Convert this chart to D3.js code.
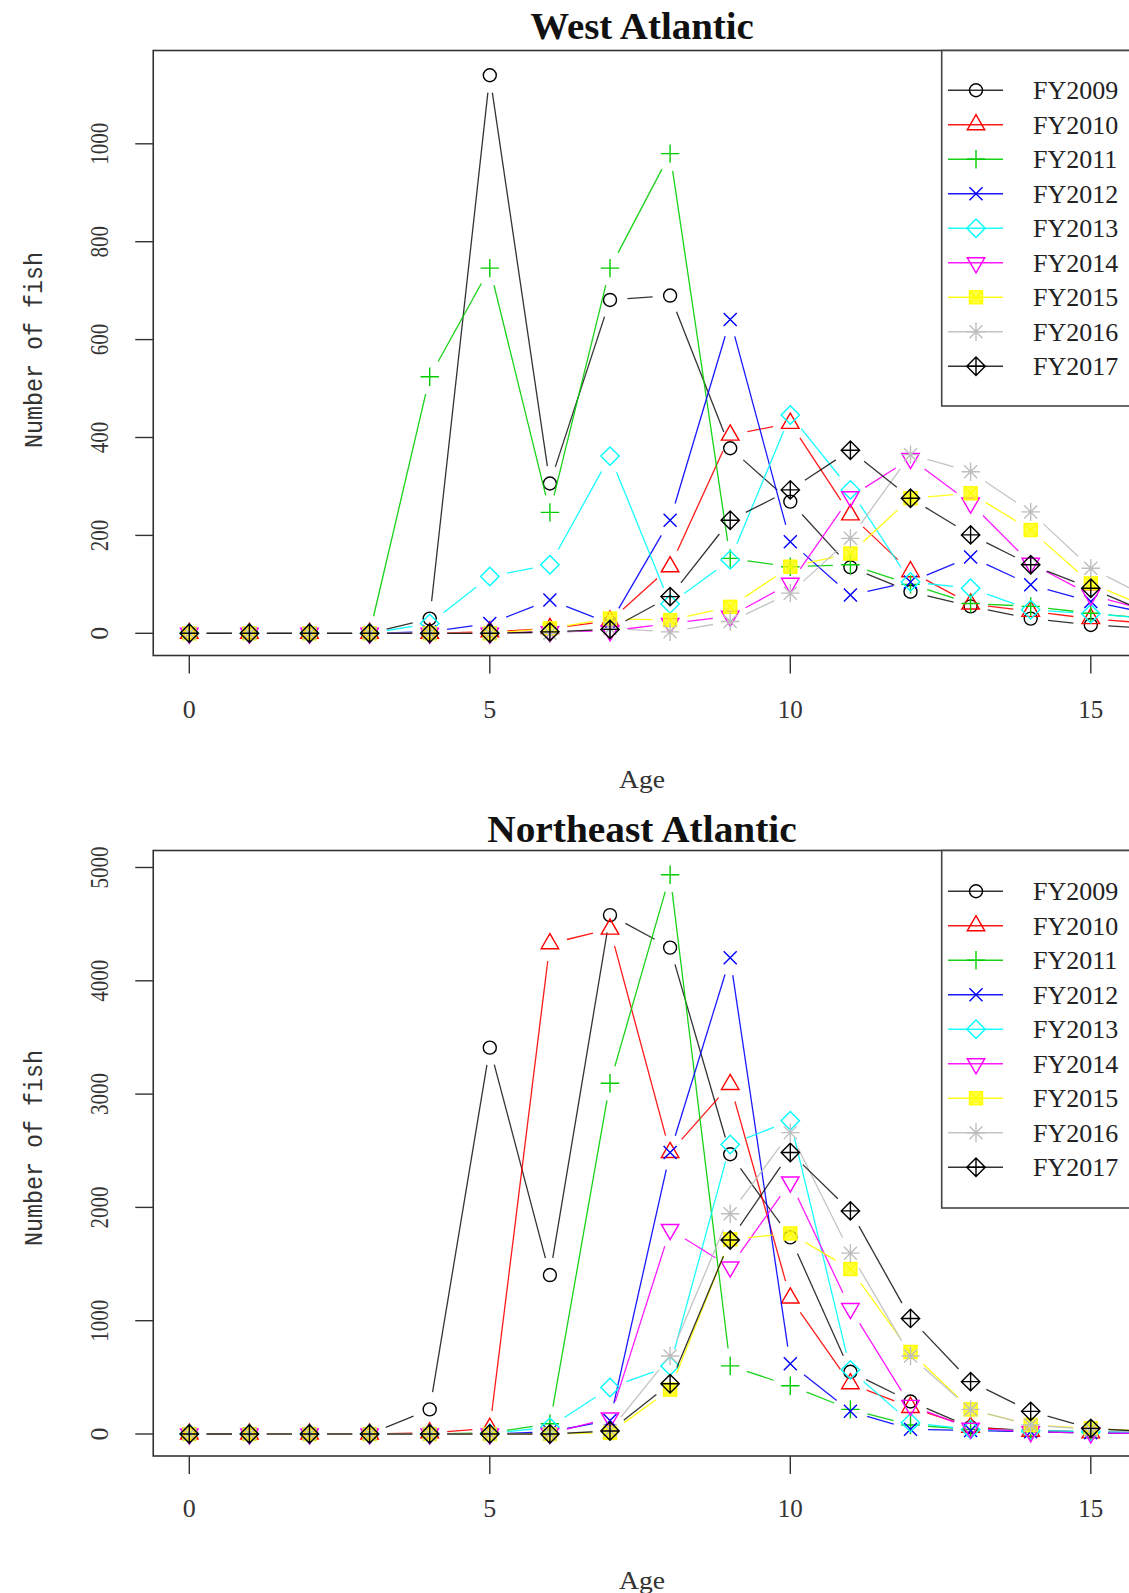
<!DOCTYPE html>
<html>
<head>
<meta charset="utf-8">
<script src="https://cdn.jsdelivr.net/npm/d3@7"></script>
<style>
  html, body { margin: 0; padding: 0; background: #ffffff; overflow: hidden; }
  svg { display: block; }
</style>
</head>
<body>
<svg id="chart" width="1129" height="1593"></svg>
<script>
// ---------------- data ----------------
const ages = [0,1,2,3,4,5,6,7,8,9,10,11,12,13,14,15,16];
const seriesNames = ["FY2009","FY2010","FY2011","FY2012","FY2013","FY2014","FY2015","FY2016","FY2017"];
const seriesColors = ["#000000","#FF0000","#00CD00","#0000FF","#00FFFF","#FF00FF","#FFFF00","#BEBEBE","#000000"];
const seriesPch = [1,2,3,4,5,6,7,8,9];
const xTicks = [0,5,10,15];
const westYTicks = [0,200,400,600,800,1000];
const neYTicks = [0,1000,2000,3000,4000,5000];

// West Atlantic (number of fish by age 0..16)
const westFY2009 = [0,0,0,0,30,1140,306,681,690,378,269,135,85,55,30,17,10];
const westFY2010 = [0,0,0,0,0,3,10,25,136,405,429,242,126,60,45,30,20];
const westFY2011 = [0,0,0,0,524,746,247,746,980,153,136,140,100,61,55,41,30];
const westFY2012 = [0,0,0,0,3,20,68,20,231,641,187,78,105,156,99,65,40];
const westFY2013 = [0,0,0,0,20,116,140,362,60,150,446,293,105,92,48,40,30];
const westFY2014 = [0,0,0,0,0,0,3,5,20,35,102,279,357,266,143,78,45];
const westFY2015 = [0,0,0,0,0,0,10,30,27,54,136,163,276,286,211,102,50];
const westFY2016 = [0,0,0,0,0,0,0,10,3,24,82,194,365,330,248,133,70];
const westFY2017 = [0,0,0,0,0,0,3,8,75,231,293,374,276,201,140,92,40];

// Northeast Atlantic
const neFY2009 = [0,0,0,0,217,3410,1403,4580,4293,2469,1735,549,287,60,30,20,10];
const neFY2010 = [0,0,0,0,10,50,4328,4457,2485,3085,1201,444,235,60,25,10,5];
const neFY2011 = [0,0,0,0,0,10,90,3096,4936,601,426,217,80,40,20,10,5];
const neFY2012 = [0,0,0,0,0,0,20,120,2485,4203,619,200,42,30,20,10,5];
const neFY2013 = [0,0,0,0,0,5,60,410,600,2555,2765,566,100,40,30,20,10];
const neFY2014 = [0,0,0,0,0,0,5,141,1805,1474,2224,1107,252,50,20,10,5];
const neFY2015 = [0,0,0,0,0,0,0,10,392,1718,1770,1456,724,217,80,50,20];
const neFY2016 = [0,0,0,0,0,0,0,30,688,1944,2660,1596,688,217,80,40,20];
const neFY2017 = [0,0,0,0,0,0,0,26,444,1712,2485,1969,1020,462,200,50,20];

const westValues = [westFY2009,westFY2010,westFY2011,westFY2012,westFY2013,westFY2014,westFY2015,westFY2016,westFY2017];
const neValues = [neFY2009,neFY2010,neFY2011,neFY2012,neFY2013,neFY2014,neFY2015,neFY2016,neFY2017];

// ---------------- layout ----------------
const svg = d3.select("#chart");
svg.append("rect").attr("width",1129).attr("height",1593).attr("fill","#fff");

const x = d3.scaleLinear().domain([0,15]).range([189.3, 1090.8]);
const frameLeft = x(-0.6);
const frameRight = x(15.75);

const panels = [
  { id:"w", title:"West Atlantic", values:westValues, yTicks:westYTicks,
    yDomain:[0,1000], yRange:[633.3,143.8], frameTop:50.5, frameBottom:655.5,
    titleY:39, tickLabelY:718, ageY:788, yTitleCenter:350, legendBottom:406 },
  { id:"ne", title:"Northeast Atlantic", values:neValues, yTicks:neYTicks,
    yDomain:[0,5000], yRange:[1434,867.5], frameTop:850.5, frameBottom:1456,
    titleY:842, tickLabelY:1517, ageY:1589, yTitleCenter:1148, legendBottom:1208 }
];

const R = 6.5; // base symbol radius
function drawSymbol(g, pch, color, cx, cy) {
  const s = g.append("g").attr("transform",`translate(${cx},${cy})`)
    .attr("fill","none").attr("stroke",color).attr("stroke-width",1.4);
  const q = Math.SQRT2 * R;
  if (pch === 1) {
    s.append("circle").attr("r",R);
  } else if (pch === 2) {
    const t0 = 1.5551*R, t1 = 1.3468*R, t2 = 0.7776*R;
    s.append("path").attr("d",`M0,${-t0}L${t1},${t2}L${-t1},${t2}Z`);
  } else if (pch === 3) {
    s.append("path").attr("d",`M${-q},0H${q}M0,${-q}V${q}`);
  } else if (pch === 4) {
    s.append("path").attr("d",`M${-R},${-R}L${R},${R}M${-R},${R}L${R},${-R}`);
  } else if (pch === 5) {
    s.append("path").attr("d",`M0,${-q}L${q},0L0,${q}L${-q},0Z`);
  } else if (pch === 6) {
    const t0 = 1.5551*R, t1 = 1.3468*R, t2 = 0.7776*R;
    s.append("path").attr("d",`M0,${t0}L${t1},${-t2}L${-t1},${-t2}Z`);
  } else if (pch === 7) {
    s.append("rect").attr("x",-R).attr("y",-R).attr("width",2*R).attr("height",2*R)
      .attr("fill",color).attr("fill-opacity",0.75);
    s.append("path").attr("d",`M${-R},${-R}L${R},${R}M${-R},${R}L${R},${-R}`);
  } else if (pch === 8) {
    s.append("path").attr("d",`M${-R},${-R}L${R},${R}M${-R},${R}L${R},${-R}M${-q},0H${q}M0,${-q}V${q}`);
  } else if (pch === 9) {
    s.append("path").attr("d",`M0,${-q}L${q},0L0,${q}L${-q},0ZM${-q},0H${q}M0,${-q}V${q}`);
  }
}

const GAP = 17.5;
panels.forEach(p => {
  const y = d3.scaleLinear().domain(p.yDomain).range(p.yRange);
  const g = svg.append("g");

  // clip
  const clipId = "clip-" + p.id;
  svg.append("clipPath").attr("id",clipId).append("rect")
    .attr("x",frameLeft).attr("y",p.frameTop)
    .attr("width",frameRight-frameLeft).attr("height",p.frameBottom-p.frameTop);

  const plot = g.append("g").attr("clip-path",`url(#${clipId})`);

  p.values.forEach((vals, si) => {
    const color = seriesColors[si];
    const sg = plot.append("g");
    const pts = ages.map((a,i) => [x(a), y(vals[i])]);
    // type = "b": segments with gaps around points
    for (let i = 0; i < pts.length-1; i++) {
      const [x0,y0] = pts[i], [x1,y1] = pts[i+1];
      const dx = x1-x0, dy = y1-y0, len = Math.hypot(dx,dy);
      if (len <= 2*GAP) continue;
      const ux = dx/len, uy = dy/len;
      sg.append("line")
        .attr("x1",x0+ux*GAP).attr("y1",y0+uy*GAP)
        .attr("x2",x1-ux*GAP).attr("y2",y1-uy*GAP)
        .attr("stroke",color).attr("stroke-width",1.3)
        .attr("stroke-opacity", color === "#000000" ? 0.8 : 0.9);
    }
    pts.forEach(([px,py]) => drawSymbol(sg, seriesPch[si], color, px, py));
  });

  // frame
  g.append("rect").attr("x",frameLeft).attr("y",p.frameTop)
    .attr("width",frameRight-frameLeft).attr("height",p.frameBottom-p.frameTop)
    .attr("fill","none").attr("stroke","#333").attr("stroke-width",1.6);

  // x axis
  const xa = g.append("g");
  xTicks.forEach(t => {
    xa.append("line").attr("x1",x(t)).attr("x2",x(t))
      .attr("y1",p.frameBottom).attr("y2",p.frameBottom+18)
      .attr("stroke","#333").attr("stroke-width",1.4);
    const lab = String(t);
    const tx = xa.append("text").attr("x",x(t)).attr("y",p.tickLabelY)
      .attr("text-anchor","middle")
      .attr("font-family","'Liberation Serif', serif").attr("font-size",26)
      .attr("fill","#333").text(lab);
    if (lab.length > 1) tx.attr("textLength",lab.length*12.5).attr("lengthAdjust","spacingAndGlyphs");
  });

  // y axis
  const ya = g.append("g");
  p.yTicks.forEach(t => {
    ya.append("line").attr("x1",frameLeft-18).attr("x2",frameLeft)
      .attr("y1",y(t)).attr("y2",y(t))
      .attr("stroke","#333").attr("stroke-width",1.4);
    const lab = String(t);
    const ty = ya.append("text")
      .attr("transform",`translate(108,${y(t)}) rotate(-90)`)
      .attr("text-anchor","middle")
      .attr("font-family","'Liberation Serif', serif").attr("font-size",26)
      .attr("fill","#333").text(lab);
    if (lab.length > 1) ty.attr("textLength",lab.length*10.5).attr("lengthAdjust","spacingAndGlyphs");
  });

  // titles
  g.append("text").attr("x",642).attr("y",p.titleY).attr("text-anchor","middle")
    .attr("font-family","'Liberation Serif', serif").attr("font-weight","bold")
    .attr("font-size",38).attr("fill","#111")
    .attr("textLength",p.title.length*17.2).attr("lengthAdjust","spacingAndGlyphs")
    .text(p.title);
  g.append("text").attr("x",642).attr("y",p.ageY).attr("text-anchor","middle")
    .attr("font-family","'Liberation Serif', serif").attr("font-size",25).attr("fill","#333")
    .attr("textLength",46).attr("lengthAdjust","spacingAndGlyphs")
    .text("Age");
  g.append("text").attr("transform",`translate(42,${p.yTitleCenter}) rotate(-90)`)
    .attr("text-anchor","middle")
    .attr("font-family","'Liberation Mono', monospace").attr("font-size",25).attr("fill","#333")
    .attr("textLength",196).attr("lengthAdjust","spacingAndGlyphs")
    .text("Number of fish");

  // legend
  const lg = g.append("g");
  const legLeft = 941.7;
  lg.append("rect").attr("x",legLeft).attr("y",p.frameTop)
    .attr("width",300).attr("height",p.legendBottom-p.frameTop)
    .attr("fill","#fff").attr("stroke","#444").attr("stroke-width",1.6);
  const mid = (p.frameTop + p.legendBottom)/2;
  const step = 34.5;
  seriesNames.forEach((name, i) => {
    const cy = mid + (i-4)*step;
    lg.append("line").attr("x1",948).attr("x2",1003).attr("y1",cy).attr("y2",cy)
      .attr("stroke",seriesColors[i]).attr("stroke-width",1.4)
      .attr("stroke-opacity", seriesColors[i] === "#000000" ? 0.8 : 0.9);
    drawSymbol(lg, seriesPch[i], seriesColors[i], 976, cy);
    lg.append("text").attr("x",1033).attr("y",cy+9)
      .attr("font-family","'Liberation Serif', serif").attr("font-size",26)
      .attr("fill","#222").text(name);
  });
});
</script>
</body>
</html>
